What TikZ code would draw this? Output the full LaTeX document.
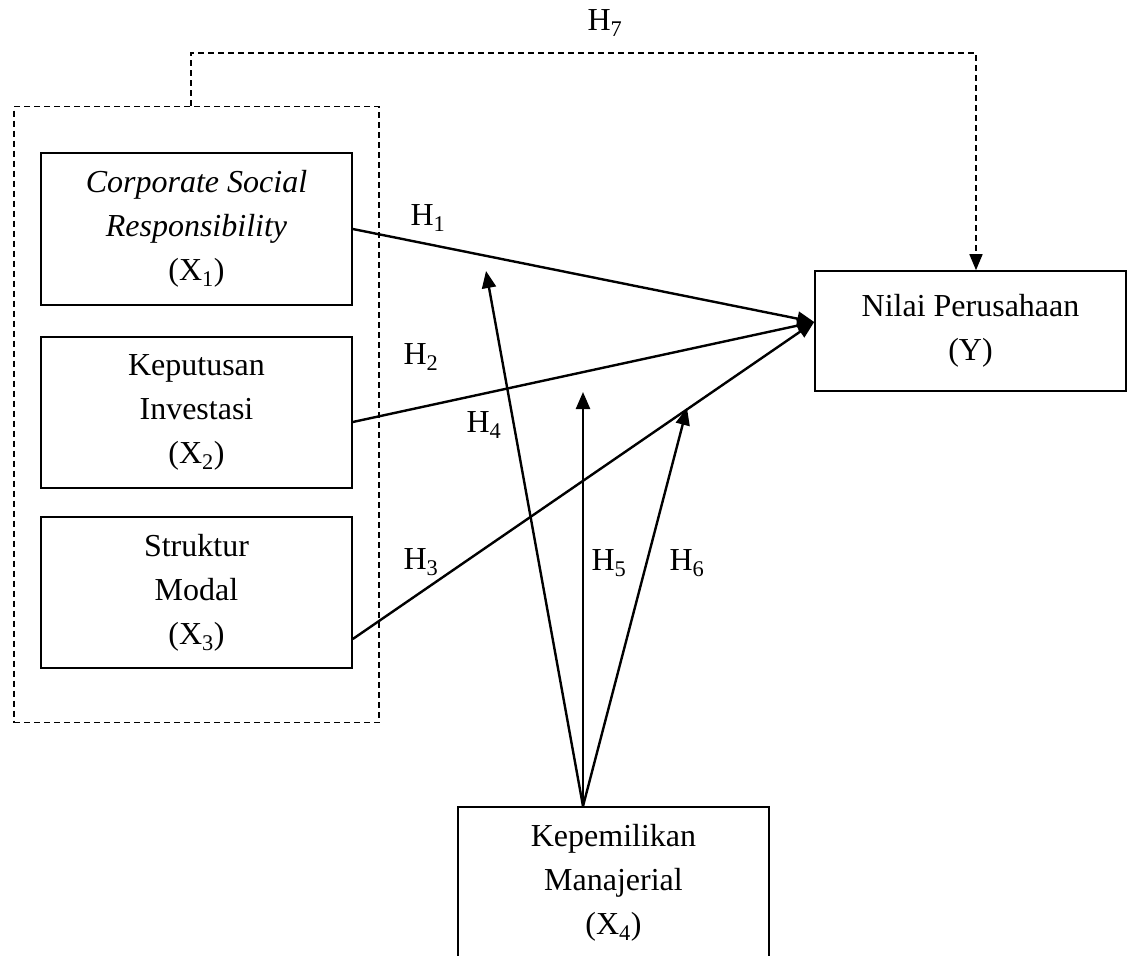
\documentclass[tikz,border=0pt]{standalone}
\usepackage{fontspec}
\setmainfont{Liberation Serif}
\usetikzlibrary{arrows.meta}
\begin{document}
\begin{tikzpicture}[x=1pt,y=-1pt,
  box/.style={draw, line width=1.6pt, minimum width=311pt, inner sep=0pt, align=center,
     font=\fontsize{32}{44}\selectfont},
  grpbox/.style={draw, dash pattern=on 6pt off 4pt, line width=1.6pt, minimum width=365pt, minimum height=616pt, inner sep=0pt},
  link/.style={line width=2.4pt, -{Triangle[length=17pt,width=14pt]}},
  dlink/.style={line width=1.6pt, dash pattern=on 6pt off 4pt, -{Triangle[length=16pt,width=13pt]}},
  hlab/.style={font=\fontsize{32}{44}\selectfont, inner sep=0pt}]
\useasboundingbox (0,0) rectangle (1128,956);
\node[grpbox] (grp) at (196.5,414.5) {};
\node[box, minimum height=152pt] (x1) at (196.5,229) {\textit{Corporate Social}\\\textit{Responsibility}\\(X\textsubscript{1})};
\node[box, minimum height=151pt] (x2) at (196.5,412.5) {Keputusan\\Investasi\\(X\textsubscript{2})};
\node[box, minimum height=151pt] (x3) at (196.5,592.5) {Struktur\\Modal\\(X\textsubscript{3})};
\node[box, minimum height=120pt] (y) at (970.5,331) {Nilai Perusahaan\\(Y)};
\node[box, minimum height=152pt] (x4) at (613.5,883) {Kepemilikan\\Manajerial\\(X\textsubscript{4})};
% hypotheses H1-H3
\coordinate (yin) at ([yshift=9pt]y.west);
\draw[link] (x1.east) -- (yin);
\draw[link] ([yshift=-9.5pt]x2.east) -- (yin);
\draw[link] ([yshift=-46.5pt]x3.east) -- (yin);
% moderation H4-H6
\coordinate (x4out) at ([xshift=-30.5pt]x4.north);
\coordinate (t4) at (486,271);
\coordinate (t5) at (583,392);
\coordinate (t6) at (687,408);
\draw[link] (x4out) -- (t4);
\draw[link] (x4out) -- (t5);
\draw[link] (x4out) -- (t6);
% H7
\coordinate (h7a) at (191,53);
\coordinate (h7b) at (976,53);
\draw[dlink] ([xshift=-5.5pt]grp.north) -- (h7a) -- (h7b) -- (h7b |- y.north);
% labels
\node[hlab] (l7) at (605,23) {H\textsubscript{7}};
\node[hlab] (l1) at (428,218) {H\textsubscript{1}};
\node[hlab] (l2) at (421,357) {H\textsubscript{2}};
\node[hlab] (l3) at (421,562) {H\textsubscript{3}};
\node[hlab] (l4) at (484,425) {H\textsubscript{4}};
\node[hlab] (l5) at (609,563) {H\textsubscript{5}};
\node[hlab] (l6) at (687,563) {H\textsubscript{6}};
\end{tikzpicture}
\end{document}
